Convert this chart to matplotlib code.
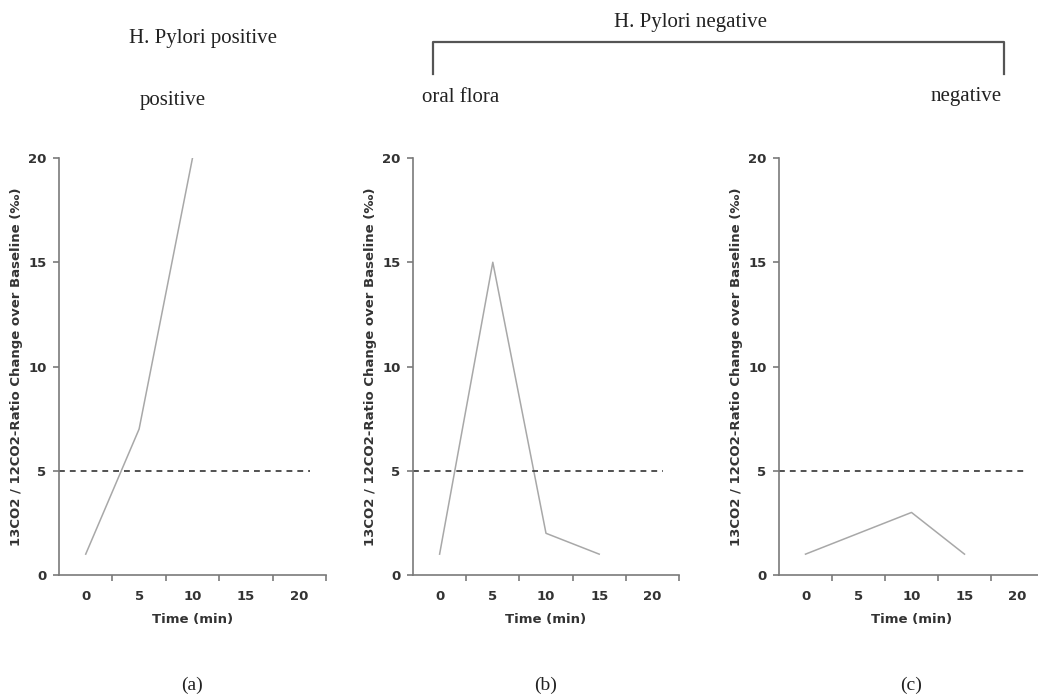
import numpy as np
import matplotlib
matplotlib.use("Agg")
import matplotlib.pyplot as plt
from matplotlib.lines import Line2D

# ------------------------------------------------------------
# datos (categorias de tiempo, valores por panel)
# ------------------------------------------------------------
tiempos = ["0", "5", "10", "15", "20"]
pos_a = [1, 7, 20]          # H. pylori positivo
flora_b = [1, 15, 2, 1]     # negativo, flora oral
neg_c = [1, 2, 3, 1]        # negativo
umbral = 5

ylabel = "13CO2 / 12CO2-Ratio Change over Baseline (\u2030)"
paneles = [pos_a, flora_b, neg_c]
letras = ["(a)", "(b)", "(c)"]

W, H = 1038, 697
fig = plt.figure(figsize=(W / 100, H / 100), dpi=100)

def fx(px):
    return px / W

def fy(py):
    return 1 - py / H

izq = [59, 413, 779]
ancho = [267, 266, 265]
y0, y20 = 575, 158

SERIF = "Liberation Serif"
GRIS = "#7a7a7a"
TXT = "#333333"

for i, datos in enumerate(paneles):
    ax = fig.add_axes([fx(izq[i]), fy(y0), ancho[i] / W, (y0 - y20) / H])
    x = np.arange(len(datos))
    ax.plot(x, datos, color="#a8a8a8", lw=1.1)
    ax.axhline(umbral, xmin=0, xmax=0.94, color="#333333", lw=1.2,
               linestyle=(0, (3.5, 3)))
    ax.set_xlim(-0.5, len(tiempos) - 0.5)
    ax.set_ylim(0, 20)
    ax.set_yticks([0, 5, 10, 15, 20])
    ax.set_xticks(np.arange(len(tiempos)) + 0.5)
    ax.set_xticklabels([])
    ax.set_xticks(np.arange(len(tiempos)), minor=True)
    ax.set_xticklabels(tiempos, minor=True)
    for s in ["top", "right"]:
        ax.spines[s].set_visible(False)
    for s in ["left", "bottom"]:
        ax.spines[s].set_color(GRIS)
        ax.spines[s].set_linewidth(1.2)
    ax.tick_params(axis="both", which="major", direction="out", length=4,
                   width=1.2, color=GRIS)
    ax.tick_params(axis="x", which="minor", length=0, pad=11)
    ax.tick_params(axis="y", which="major", pad=5)
    for lab in ax.get_yticklabels() + ax.get_xticklabels(minor=True):
        lab.set_fontweight("bold")
        lab.set_fontsize(9.5)
        lab.set_color(TXT)
    ax.set_xlabel("Time (min)", fontsize=9.5, fontweight="bold", color=TXT,
                  labelpad=7)
    ax.set_ylabel(ylabel, fontsize=9.5, fontweight="bold", color=TXT,
                  labelpad=4)
    centro = izq[i] + ancho[i] / 2
    fig.text(fx(centro), fy(685), letras[i], family=SERIF, fontsize=14,
             ha="center", va="center", color="#222222")

# textos superiores
fig.text(fx(203), fy(39), "H. Pylori positive", family=SERIF, fontsize=15,
         ha="center", va="center", color="#222222")
fig.text(fx(173), fy(100), "positive", family=SERIF, fontsize=15,
         ha="center", va="center", color="#222222")
fig.text(fx(690), fy(22), "H. Pylori negative", family=SERIF, fontsize=15,
         ha="center", va="center", color="#222222")
fig.text(fx(422), fy(97), "oral flora", family=SERIF, fontsize=15,
         ha="left", va="center", color="#222222")
fig.text(fx(1002), fy(97), "negative", family=SERIF, fontsize=15,
         ha="right", va="center", color="#222222")

# corchete
fig.add_artist(Line2D([fx(433), fx(433), fx(1004), fx(1004)],
                      [fy(74), fy(42), fy(42), fy(74)],
                      color="#555555", lw=1.6))

fig.savefig("out.png", dpi=100)
